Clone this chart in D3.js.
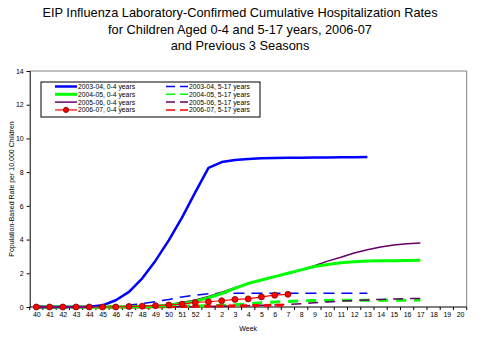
<!DOCTYPE html>
<html><head><meta charset="utf-8">
<script src="https://cdn.jsdelivr.net/npm/d3@7"></script>
<style>body{margin:0;background:#fff}svg{display:block}text{font-family:"Liberation Sans",Arial,sans-serif}</style>
</head><body><svg id="c" width="479" height="360"></svg>
<script>
const weeks = ["40","41","42","43","44","45","46","47","48","49","50","51","52","1","2","3","4","5","6","7","8","9","10","11","12","13","14","15","16","17","18","19","20"];
const yTicks = [0,2,4,6,8,10,12,14];
const titleLines = ["EIP Influenza Laboratory-Confirmed Cumulative Hospitalization Rates","for Children Aged 0-4 and 5-17 years, 2006-07","and Previous 3 Seasons"];
const yTitle = "Population-Based Rate per 10,000 Children";
const xTitle = "Week";

const s0304_04 = [0,0,0,0,0.02,0.1,0.4,0.9,1.7,2.75,3.95,5.3,6.8,8.25,8.6,8.72,8.78,8.82,8.84,8.85,8.86,8.87,8.87,8.88,8.89,8.9];
const s0405_04 = [0,0,0,0,0,0,0,0.01,0.02,0.05,0.1,0.2,0.35,0.55,0.8,1.1,1.4,1.6,1.8,2.0,2.2,2.4,2.52,2.62,2.68,2.73,2.75,2.75,2.76,2.77];
const s0506_04 = [0,0,0,0,0,0,0,0.01,0.02,0.06,0.15,0.27,0.42,0.62,0.88,1.15,1.4,1.6,1.8,2.0,2.2,2.45,2.72,2.95,3.2,3.4,3.56,3.68,3.75,3.8];
const s0607_04 = [0,0,0,0,0,0,0,0.03,0.05,0.08,0.12,0.17,0.27,0.31,0.37,0.45,0.48,0.6,0.7,0.75];
const s0304_517 = [0,0,0,0,0,0.02,0.05,0.12,0.2,0.32,0.45,0.6,0.7,0.78,0.81,0.82,0.82,0.82,0.82,0.82,0.82,0.82,0.82,0.82,0.82,0.82];
const s0405_517 = [0,0,0,0,0,0,0,0,0,0.01,0.02,0.04,0.06,0.08,0.1,0.13,0.18,0.25,0.3,0.33,0.36,0.38,0.39,0.4,0.4,0.4,0.4,0.4,0.4,0.41];
const s0506_517 = [0,0,0,0,0,0,0,0,0,0,0.01,0.01,0.02,0.03,0.05,0.06,0.08,0.1,0.12,0.15,0.2,0.25,0.3,0.35,0.38,0.42,0.45,0.47,0.5,0.51];
const s0607_517 = [0,0,0,0,0,0,0,0,0,0.01,0.02,0.03,0.04,0.05,0.06,0.07,0.08,0.09,0.1,0.1];

const series = [
  {name:"2003-04, 0-4 years", v:s0304_04, color:"#0000ff", w:2.5, dash:null, col:0, row:0},
  {name:"2004-05, 0-4 years", v:s0405_04, color:"#00ff00", w:3, dash:null, col:0, row:1},
  {name:"2005-06, 0-4 years", v:s0506_04, color:"#660066", w:1.5, dash:null, col:0, row:2},
  {name:"2006-07, 0-4 years", v:s0607_04, color:"#ff0000", w:1.2, dash:null, col:0, row:3, marker:true},
  {name:"2003-04, 5-17 years", v:s0304_517, color:"#0000ff", w:1.5, dash:"11,7", col:1, row:0},
  {name:"2004-05, 5-17 years", v:s0405_517, color:"#00ff00", w:3, dash:"10,8", col:1, row:1},
  {name:"2005-06, 5-17 years", v:s0506_517, color:"#660066", w:1.5, dash:"10,7", col:1, row:2},
  {name:"2006-07, 5-17 years", v:s0607_517, color:"#ff0000", w:3, dash:"7,5", col:1, row:3}
];

const svg = d3.select("#c");
const L=29.7, R=466.7, T=71, B=307;
const x = d3.scalePoint().domain(weeks).range([L,R]).padding(0.5);
const y = d3.scaleLinear().domain([0,14]).range([B,T]);
const step = x.step();

svg.append("g").selectAll("text").data(titleLines).join("text")
  .attr("x",240).attr("y",(d,i)=>17+i*16.5).attr("text-anchor","middle")
  .attr("font-size",12.8).attr("fill","#000").text(d=>d);

svg.append("line").attr("x1",L).attr("x2",R).attr("y1",T).attr("y2",T).attr("stroke","#808080");
svg.append("line").attr("x1",R).attr("x2",R).attr("y1",T).attr("y2",B).attr("stroke","#808080");

const ya = svg.append("g").attr("transform",`translate(${L},0)`)
  .call(d3.axisLeft(y).tickValues(yTicks).tickSize(3).tickPadding(3).tickFormat(d3.format("d")));
ya.select(".domain").attr("stroke","#000");
ya.selectAll("text").attr("font-size",7).attr("font-family","Liberation Sans, Arial");

const xa = svg.append("g").attr("transform",`translate(0,${B})`)
  .call(d3.axisBottom(x).tickSize(0).tickPadding(5));
xa.select(".domain").attr("stroke","#000").attr("d",`M${L},0H${R}`);
xa.selectAll("text").attr("font-size",7).attr("font-family","Liberation Sans, Arial");
xa.selectAll(".sep").data(weeks.concat(["end"])).join("line").attr("class","sep")
  .attr("x1",(d,i)=>L+i*step).attr("x2",(d,i)=>L+i*step).attr("y1",0).attr("y2",3).attr("stroke","#000");

svg.append("text").attr("x",(L+R)/2).attr("y",331).attr("text-anchor","middle").attr("font-size",7).text(xTitle);
svg.append("text").attr("transform",`translate(14,${(T+B)/2}) rotate(-90)`).attr("text-anchor","middle").attr("font-size",7).text(yTitle);

const line = d3.line().x((d,i)=>x(weeks[i])).y(d=>y(d));
const order = [4,5,6,7,2,1,0,3];
order.forEach(k=>{
  const s = series[k];
  svg.append("path").attr("d",line(s.v)).attr("fill","none").attr("stroke",s.color)
    .attr("stroke-width",s.w).attr("stroke-dasharray",s.dash).attr("stroke-linejoin","round");
  if(s.marker){
    svg.append("g").selectAll("circle").data(s.v).join("circle")
      .attr("cx",(d,i)=>x(weeks[i])).attr("cy",d=>y(d)).attr("r",3)
      .attr("fill","#ff0000").attr("stroke","#800000").attr("stroke-width",0.8);
  }
});

const lg = svg.append("g");
lg.append("rect").attr("x",41).attr("y",82).attr("width",219).attr("height",35).attr("fill","#fff").attr("stroke","#000");
series.forEach(s=>{
  const x0 = s.col===0?55:166, yy = 86.5+s.row*7.8;
  lg.append("line").attr("x1",x0).attr("x2",x0+22).attr("y1",yy).attr("y2",yy).attr("stroke",s.color)
    .attr("stroke-width",s.dash?1.5:s.w).attr("stroke-dasharray",s.dash?"9,5":null);
  if(s.marker) lg.append("circle").attr("cx",x0+11).attr("cy",yy).attr("r",2.6).attr("fill","#ff0000").attr("stroke","#800000").attr("stroke-width",0.8);
  lg.append("text").attr("x",x0+23).attr("y",yy+2.5).attr("font-size",6.8).text(s.name);
});
</script></body></html>
